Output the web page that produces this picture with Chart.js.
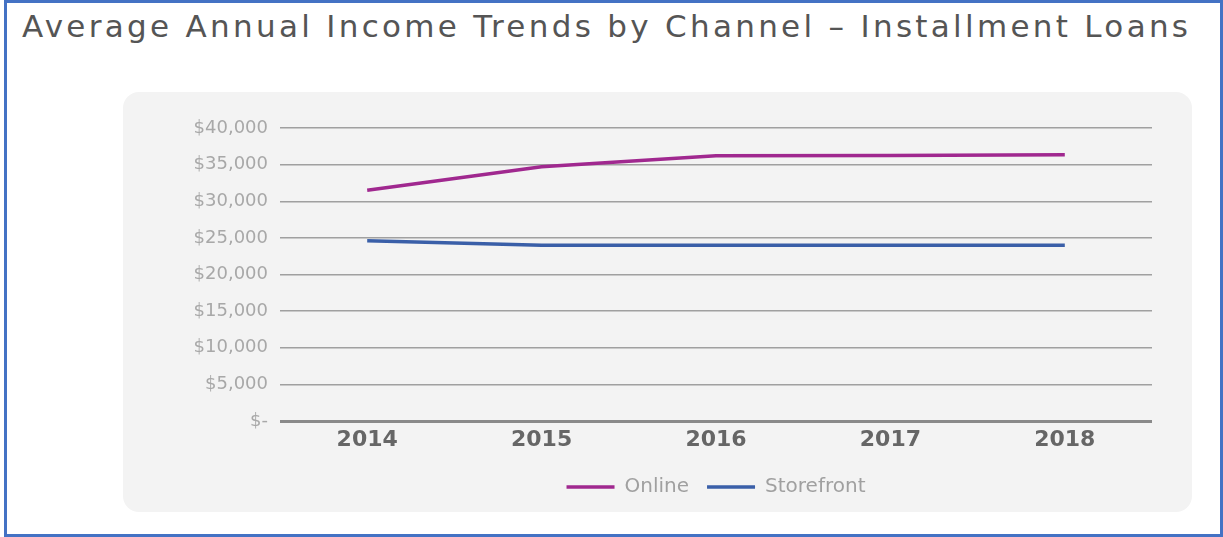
<!DOCTYPE html>
<html>
<head>
<meta charset="utf-8">
<script src="https://cdn.jsdelivr.net/npm/chart.js@4"></script>
<style>
  body { margin: 0; background: #fff; }
  #frame { position: absolute; left: 4px; top: 0px; width: 1213px; height: 531px; border: 3px solid #4472c4; }
  #title { position: absolute; left: 22px; top: 8px; font: 31px "DejaVu Sans", sans-serif; color: #555; letter-spacing: 3.3px; white-space: nowrap; }
  #panel { position: absolute; left: 123px; top: 92px; width: 1069px; height: 420px; border-radius: 16px; background: #f3f3f3; }
  #myChart { position: absolute; left: 0; top: 0; }
</style>
</head>
<body>
<div id="frame"></div>
<div id="title">Average Annual Income Trends by Channel – Installment Loans</div>
<div id="panel"><canvas id="myChart" width="1069" height="420"></canvas></div>
<script>
const years = ["2014", "2015", "2016", "2017", "2018"];
const onlineIncome = [31500, 34700, 36200, 36250, 36350];
const storefrontIncome = [24600, 24000, 24000, 24000, 24000];

const ctx = document.getElementById("myChart").getContext("2d");
const chart = new Chart(ctx, {
  type: "line",
  data: {
    labels: years,
    datasets: [
      {
        label: "Online",
        data: onlineIncome,
        borderColor: "#a0288f",
        backgroundColor: "#a0288f",
        borderWidth: 3.5,
        pointRadius: 0,
        tension: 0
      },
      {
        label: "Storefront",
        data: storefrontIncome,
        borderColor: "#3a5fa8",
        backgroundColor: "#3a5fa8",
        borderWidth: 3.5,
        pointRadius: 0,
        tension: 0
      }
    ]
  },
  options: {
    responsive: false,
    animation: false,
    layout: { padding: { left: 17, right: 40, top: 36, bottom: 5 } },
    plugins: {
      legend: {
        position: "bottom",
        fullSize: false,
        labels: {
          usePointStyle: true,
          pointStyle: "line",
          pointStyleWidth: 48,
          color: "#a0a0a0",
          font: { family: "DejaVu Sans", size: 20 },
          padding: 18
        }
      },
      tooltip: { enabled: false }
    },
    scales: {
      x: {
        offset: true,
        grid: { display: false, drawTicks: false },
        border: { display: false },
        ticks: {
          color: "#666",
          font: { family: "DejaVu Sans", size: 22, weight: "bold", lineHeight: 1 },
          padding: 8
        }
      },
      y: {
        min: 0,
        max: 40000,
        border: { display: false },
        afterFit: s => { s.width = 140; },
        grid: {
          drawTicks: false,
          color: c => c.tick.value === 0 ? "#8a8a8a" : "#a0a0a0",
          lineWidth: c => c.tick.value === 0 ? 3 : 1.5
        },
        ticks: {
          stepSize: 5000,
          padding: 12,
          color: "#a8a8a8",
          font: { family: "DejaVu Sans", size: 18 },
          callback: v => v === 0 ? "$-" : "$" + v.toLocaleString("en-US")
        }
      }
    }
  }
});
</script>
</body>
</html>
